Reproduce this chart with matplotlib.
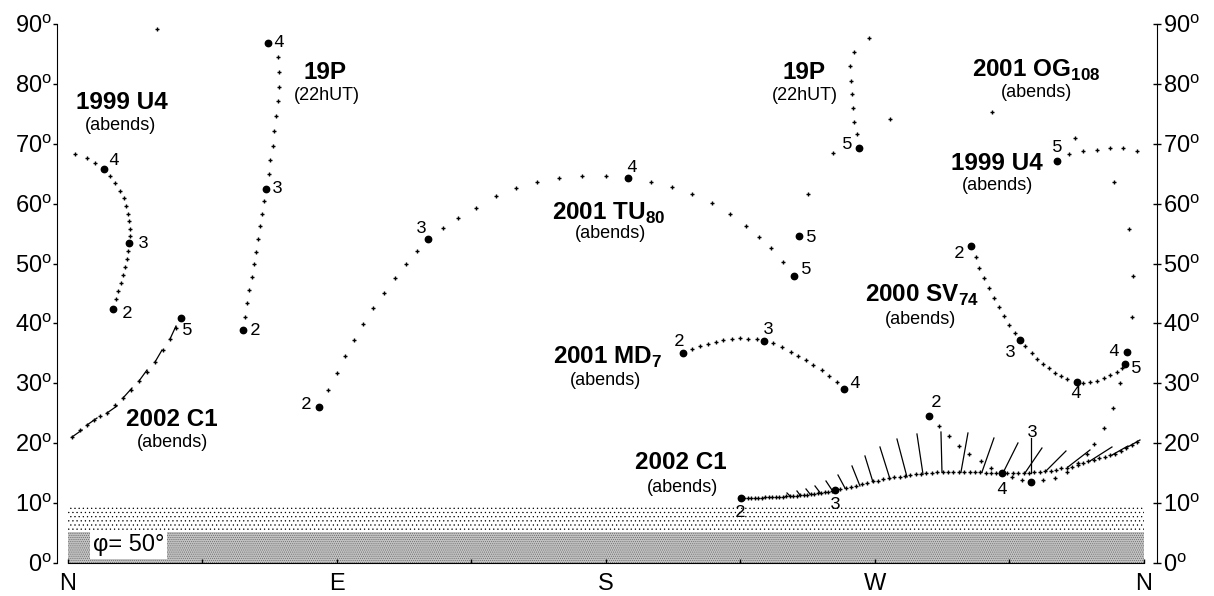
import numpy as np
import matplotlib.pyplot as plt

plt.rcParams['font.family'] = ['Liberation Sans', 'DejaVu Sans']
plt.rcParams['mathtext.fontset'] = 'custom'
plt.rcParams['mathtext.rm'] = 'Liberation Sans'
plt.rcParams['mathtext.bf'] = 'Liberation Sans:bold'
plt.rcParams['hatch.linewidth'] = 0.4

# azimuth (deg, N=0 over E) and altitude (deg) for the evening sky, Feb-May 2002
# small dots = intermediate dates, big dots = start of month 2..5

# C/1999 U4
u4_az = [16.06, 16.73, 17.73, 18.40, 19.07, 19.74, 20.07,
         20.74, 20.74, 20.41, 20.07, 19.41, 18.74, 17.40, 15.73, 14.05,
         9.03, 6.36, 2.34, 357.65, 352.96, 348.61, 344.26, 339.58, 334.90]
u4_alt = [44.08, 45.42, 46.75, 48.09, 49.42, 50.76, 52.09,
          54.60, 55.77, 57.10, 58.27, 59.61, 60.95, 62.11, 63.45, 64.62,
          66.79, 67.62, 68.29, 68.79, 69.29, 69.29, 68.96, 68.79, 68.29]
u4_mon_az = [15.06, 20.41, 12.04, 330.89]
u4_mon_alt = [42.41, 53.43, 65.79, 67.12]

# 19P/Borrelly (22h UT)
p19_az = [59.22, 59.89, 60.56, 61.56, 62.23, 62.90, 63.57, 64.24, 64.91, 65.57,
          67.25, 67.58, 68.59, 68.92, 69.59, 70.26, 70.59, 70.59, 70.26,
          29.78, 267.98, 262.96, 261.63, 261.96, 262.29, 262.63, 262.96, 263.97]
p19_alt = [41.08, 43.41, 45.58, 47.75, 49.92, 51.93, 54.10, 56.27, 58.27, 60.44,
           64.95, 67.29, 69.63, 72.13, 74.64, 77.14, 79.48, 81.98, 84.49,
           89.16, 87.66, 85.32, 82.98, 80.48, 78.31, 75.97, 73.63, 71.63]
p19_mon_az = [58.56, 66.24, 66.91, 264.64]
p19_mon_alt = [38.90, 62.45, 86.83, 69.29]

# 2001 TU80
tu_az = [86.99, 90.00, 92.67, 95.68, 98.70, 102.04, 105.72, 109.40, 113.08, 116.76,
         125.46, 130.48, 136.50, 143.19, 149.88, 156.91, 164.27, 171.96, 179.99,
         195.05, 202.07, 208.76, 215.46, 221.48, 226.83, 231.18, 235.20, 239.21]
tu_alt = [28.89, 31.72, 34.56, 37.23, 39.91, 42.58, 45.08, 47.59, 49.92, 52.10,
          55.94, 57.61, 59.27, 61.28, 62.62, 63.62, 64.28, 64.62, 64.62,
          63.62, 62.78, 61.61, 60.11, 58.27, 56.27, 54.43, 52.60, 50.26]
tu_mon_az = [83.97, 120.44, 187.35, 242.89]
tu_mon_alt = [26.05, 54.10, 64.28, 47.92]

# 2001 MD7
md_az = [208.76, 211.44, 214.12, 216.79, 219.14, 222.15, 224.82, 227.50, 230.51,
         235.87, 238.88, 241.89, 244.23, 246.91, 249.25, 252.26, 254.60, 257.28]
md_alt = [35.73, 36.23, 36.57, 36.90, 37.23, 37.40, 37.57, 37.40, 37.40,
          36.73, 36.07, 35.23, 34.56, 33.90, 33.06, 32.23, 31.22, 30.22]
md_mon_az = [205.75, 232.85, 259.62]
md_mon_alt = [35.06, 37.07, 29.05]

# 2000 SV74
sv_az = [303.78, 304.78, 306.46, 308.13, 309.80, 311.47, 313.15, 314.82, 316.83,
         320.17, 322.52, 324.19, 326.19, 328.20, 330.21, 332.22, 334.23,
         339.58, 341.92, 344.26, 346.61, 348.61, 350.95, 352.63]
sv_alt = [51.09, 49.26, 47.59, 45.92, 44.25, 42.75, 41.24, 39.74, 38.40,
          36.23, 35.06, 34.06, 33.23, 32.56, 31.72, 31.22, 30.72,
          30.05, 30.22, 30.39, 30.89, 31.39, 31.89, 32.56]
sv_mon_az = [302.11, 318.50, 337.57, 353.63]
sv_mon_alt = [52.93, 37.23, 30.22, 33.23]

# 2001 OG108
og_az = [291.40, 294.75, 298.09, 301.44, 305.45, 308.80, 312.48, 315.82, 319.17,
         326.20, 330.21, 334.23, 337.91, 340.92, 343.26, 346.61, 349.61, 351.96,
         355.97, 356.31, 354.97, 349.95, 336.90, 309.13, 275.01, 255.94, 247.57]
og_alt = [22.88, 21.21, 19.54, 18.20, 17.03, 15.86, 15.19, 14.36, 13.86,
          13.86, 14.19, 15.19, 16.70, 18.20, 19.87, 22.54, 25.88, 30.05,
          41.08, 47.92, 55.77, 63.62, 70.96, 75.30, 74.14, 68.46, 61.61]
og_mon_az = [288.06, 322.18, 354.30, 244.56]
og_mon_alt = [24.55, 13.52, 35.23, 54.60]

# C/2002 C1 (Ikeya-Zhang)
c1_az = [226.33, 227.50, 228.67, 229.84, 231.01, 232.18, 233.36, 234.53, 235.70,
         236.87, 238.04, 239.21, 240.38, 241.55, 242.72, 243.89, 245.06, 246.24,
         247.41, 248.58, 249.75, 250.92, 252.09, 253.26, 254.43, 255.60,
         258.41, 260.22, 262.02, 263.80, 265.61, 267.42, 269.22, 271.03, 272.84,
         274.64, 276.42, 278.23, 280.04, 281.84, 283.65, 285.46, 287.23, 289.04,
         290.84, 292.65, 294.46, 296.26, 298.07, 299.84, 301.65, 303.45, 305.26,
         307.07, 308.87, 310.65,
         314.29, 316.09, 317.90, 319.71, 321.51, 323.32, 325.13, 326.93, 328.74,
         330.54, 332.35, 334.16, 335.97, 337.77, 339.58, 341.39, 343.19, 345.00,
         346.81, 348.61, 350.42, 352.23, 354.03, 355.84, 357.65,
         1.34, 4.01, 6.36, 8.70, 10.71, 13.05, 15.72, 18.40, 21.08, 23.75,
         26.43, 29.11, 31.78, 34.13, 36.13]
c1_alt = [10.85, 10.86, 10.87, 10.88, 10.90, 10.92, 10.94, 10.96, 10.99,
          11.02, 11.05, 11.08, 11.12, 11.16, 11.20, 11.25, 11.30, 11.36,
          11.42, 11.49, 11.56, 11.64, 11.72, 11.81, 11.90, 11.99,
          12.36, 12.52, 12.69, 12.94, 13.19, 13.36, 13.61, 13.77, 14.03,
          14.19, 14.36, 14.44, 14.61, 14.69, 14.86, 14.94, 15.03, 15.11,
          15.16, 15.19, 15.19, 15.19, 15.19, 15.19, 15.19, 15.19, 15.16,
          15.11, 15.08, 15.03,
          15.03, 15.03, 15.03, 15.06, 15.11, 15.16, 15.19, 15.28, 15.44,
          15.61, 15.78, 15.94, 16.11, 16.36, 16.70, 16.95, 17.20, 17.45,
          17.78, 18.03, 18.28, 18.70, 19.12, 19.62, 20.20,
          21.04, 22.21, 23.04, 23.88, 24.54, 25.05, 26.38, 27.55, 28.89, 30.39,
          31.89, 33.56, 35.56, 37.40, 39.24]
c1_mon_az = [225.16, 256.61, 312.48, 37.81]
c1_mon_alt = [10.85, 12.19, 15.03, 40.91]

# ion tail of 2002 C1: root on the track, tip
tail_az0 = [241.55, 244.90, 248.24, 251.59, 255.60, 259.95, 264.97, 269.32, 275.01,
            280.70, 286.05, 292.41, 298.77, 305.79, 312.81, 320.17, 327.20, 334.56,
            341.92, 349.28, 353.96, 1.34, 6.36, 13.05, 18.40, 23.75, 29.11, 34.13]
tail_alt0 = [11.19, 11.35, 11.52, 11.77, 12.19, 12.52, 12.86, 13.52, 14.03,
             14.36, 14.86, 15.19, 15.19, 15.19, 15.03, 15.03, 15.36, 16.03,
             17.03, 18.03, 19.20, 21.04, 23.04, 25.05, 27.55, 30.39, 33.56, 37.40]
tail_az1 = [240.55, 243.89, 246.91, 249.92, 253.60, 257.61, 262.30, 266.64, 271.66,
            277.35, 284.04, 292.07, 301.10, 309.80, 317.83, 325.86, 333.89, 341.92,
            349.28, 354.63, 358.65, 4.69, 9.70, 16.40, 21.41, 26.43, 31.45, 36.13]
tail_alt1 = [11.69, 12.02, 12.36, 12.86, 13.69, 14.69, 16.20, 17.87, 19.37,
             20.70, 21.54, 21.87, 21.71, 20.87, 20.04, 19.20, 18.70, 18.87,
             19.37, 19.54, 20.54, 22.21, 24.21, 26.22, 29.22, 32.23, 35.56, 39.57]

fig = plt.figure(figsize=(12.14, 5.96), dpi=100)
ax = fig.add_axes([57 / 1214, 33 / 596, 1100 / 1214, 539 / 596])
ax.set_xlim(-3.68, 364.35)
ax.set_ylim(0, 90)

# horizon haze
ax.fill_between([0, 360], 0, 9.5, facecolor='white', edgecolor='black', hatch='....', linewidth=0, zorder=1)
ax.fill_between([0, 360], 0, 5.2, facecolor='#c2c2c2', edgecolor='#606060', hatch='........', linewidth=0, zorder=1)
ax.text(20.4, 3.0, 'φ= 50°', ha='center', va='center', fontsize=17, zorder=3,
        bbox=dict(facecolor='white', edgecolor='none', pad=2))

dot = dict(ls='none', marker='+', ms=3.5, mew=1.0, color='black', zorder=4)
big = dict(ls='none', marker='o', ms=4.6, color='black', zorder=5)
mfont = dict(family='Liberation Mono', fontsize=13, ha='center', va='center', zorder=6)


def months(az, alt, labels, offs):
    ax.plot(az, alt, **big)
    for a, h, t, (dx, dy) in zip(az, alt, labels, offs):
        ax.annotate(t, (a, h), xytext=(dx, dy), textcoords='offset pixels', **mfont)


for a0, h0, a1, h1 in zip(tail_az0, tail_alt0, tail_az1, tail_alt1):
    ax.plot([a0, a1], [h0, h1], color='black', lw=0.9, zorder=3)

ax.plot(u4_az, u4_alt, **dot)
ax.plot(p19_az, p19_alt, **dot)
ax.plot(tu_az, tu_alt, **dot)
ax.plot(md_az, md_alt, **dot)
ax.plot(sv_az, sv_alt, **dot)
ax.plot(og_az, og_alt, **dot)
ax.plot(c1_az, c1_alt, **dot)

months(u4_mon_az, u4_mon_alt, '2345', [(14, -4), (14, 0), (10, 8), (0, 14)])
months(p19_mon_az, p19_mon_alt, '2345', [(12, 0), (11, 0), (11, 0), (-12, 4)])
months(tu_mon_az, tu_mon_alt, '2345', [(-13, 2), (-7, 11), (4, 11), (12, 7)])
months(md_mon_az, md_mon_alt, '234', [(-4, 12), (4, 11), (11, 6)])
months(sv_mon_az, sv_mon_alt, '2345', [(-12, -7), (-10, -12), (-1, -11), (11, -5)])
months(og_mon_az, og_mon_alt, '2345', [(7, 13), (1, 50), (-13, 1), (12, -1)])
months(c1_mon_az, c1_mon_alt, '2345', [(-1, -14), (0, -15), (0, -17), (6, -13)])
# leader from the "3" of 2001 OG108
ax.plot([og_mon_az[1], og_mon_az[1]], [15.0, 20.9], color='black', lw=0.9, zorder=3)

# object names
bold = dict(ha='center', va='center', fontsize=17.5, fontweight='bold', zorder=6)
note = dict(ha='center', va='center', fontsize=13, zorder=6)
ax.text(18.07, 76.97, '1999 U4', **bold)
ax.text(17.73, 73.13, '(abends)', **note)
ax.text(86.0, 81.98, '19P', **bold)
ax.text(86.66, 78.14, '(22hUT)', **note)
ax.text(246.27, 81.98, '19P', **bold)
ax.text(246.6, 78.14, '(22hUT)', **note)
ax.text(324.06, 82.32, r'2001 OG$_{\mathbf{108}}$', **bold)
ax.text(323.9, 78.64, '(abends)', **note)
ax.text(310.84, 66.79, '1999 U4', **bold)
ax.text(310.84, 62.95, '(abends)', **note)
ax.text(181.0, 58.44, r'2001 TU$_{\mathbf{80}}$', **bold)
ax.text(181.35, 55.10, '(abends)', **note)
ax.text(285.9, 44.75, r'2000 SV$_{\mathbf{74}}$', **bold)
ax.text(285.1, 40.74, '(abends)', **note)
ax.text(180.5, 34.40, r'2001 MD$_{\mathbf{7}}$', **bold)
ax.text(179.7, 30.39, '(abends)', **note)
ax.text(34.8, 23.88, '2002 C1', **bold)
ax.text(35.13, 20.04, '(abends)', **note)
ax.text(205.1, 16.70, '2002 C1', **bold)
ax.text(205.45, 12.69, '(abends)', **note)

# axes
yt = np.arange(0, 91, 10)
ylab = [f'{v}' + r'$^{\rm o}$' for v in yt]
ax.spines['top'].set_visible(False)
ax.spines['right'].set_visible(False)
ax.spines['bottom'].set_bounds(0, 360)
ax.set_yticks(yt)
ax.set_yticklabels(ylab)
ax.tick_params(axis='y', direction='out', length=3, width=1, pad=0.5, labelsize=17)
ax.set_xticks(np.arange(0, 361, 45))
ax.set_xticklabels(['N', '', 'E', '', 'S', '', 'W', '', 'N'])
ax.tick_params(axis='x', direction='in', length=3, width=1, pad=7, labelsize=17)

ax2 = ax.twinx()
ax2.set_ylim(0, 90)
for s in ['top', 'left', 'bottom']:
    ax2.spines[s].set_visible(False)
ax2.set_yticks(yt)
ax2.set_yticklabels(ylab)
ax2.tick_params(axis='y', direction='inout', length=6, width=1, pad=1.5, labelsize=17)

plt.savefig('out.png', dpi=100)
